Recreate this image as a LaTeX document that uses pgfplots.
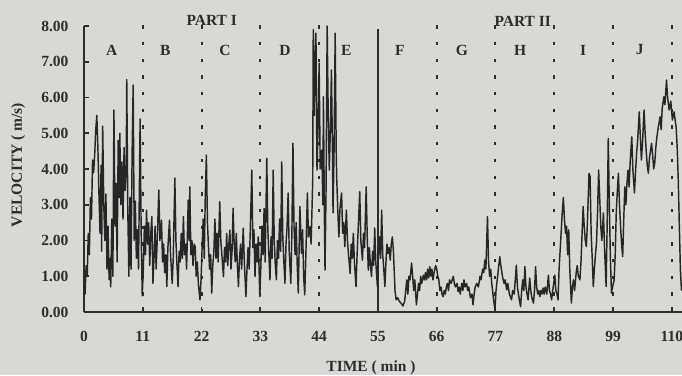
\documentclass[border=0pt]{standalone}
\usepackage{pgfplots}
\pgfplotsset{compat=1.18}
\usepackage{fontspec}
\setmainfont{Liberation Serif}
\definecolor{bg}{RGB}{216,216,213}
\definecolor{fg}{RGB}{45,45,45}
\definecolor{dl}{RGB}{38,38,38}
\newcommand{\lf}{\fontsize{15.5}{18}\selectfont\bfseries}
\begin{document}
\begin{tikzpicture}
\path[use as bounding box, fill=bg] (-84pt,-63pt) rectangle (598pt,312pt);
\begin{axis}[
  scale only axis, width=598pt, height=286pt,
  at={(0,0)}, anchor=south west,
  xmin=0, xmax=111.9, ymin=0, ymax=8,
  axis x line*=bottom, axis y line*=left,
  axis line style={fg, line width=2.2pt, -},
  clip mode=individual,
  xtick={0,11,22,33,44,55,66,77,88,99,110},
  ytick={0,1,2,3,4,5,6,7,8},
  tick align=inside,
  major tick length=5pt,
  tick style={fg, line width=1.8pt},
  /pgf/number format/assume math mode=true,
  ticklabel style={font=\lf, text=fg},
  xticklabel style={yshift=-16pt},
  yticklabel style={/pgf/number format/fixed, /pgf/number format/fixed zerofill, /pgf/number format/precision=2, xshift=-12pt},
  xlabel={TIME ( min )},
  ylabel={VELOCITY ( m/s)},
  label style={font=\lf, text=fg},
  xlabel style={at={(axis description cs:0.48,-0.195)}, anchor=center},
  ylabel style={at={(axis description cs:-0.11,0.514)}, anchor=center},
]
% partition lines
\foreach \xx in {11,22,33,44,66,77,88,99,110} {
  \edef\tmp{\noexpand\addplot[fg, line width=2pt, dash pattern=on 3.3pt off 13.4pt, forget plot] coordinates {(\xx,8.02) (\xx,0)};}
  \tmp
}
\addplot[fg, line width=2.2pt, forget plot] coordinates {(55,0) (55,7.93)};
% velocity record
\addplot[dl, line width=1.45pt, line join=round] table {
x y
0 1.0
0.2 0.5
0.4 1.3
0.6 1.0
0.8 2.2
1.0 1.6
1.2 3.2
1.4 2.6
1.6 4.25
1.8 3.9
2.0 4.4
2.2 5.1
2.4 5.5
2.6 4.6
2.8 3.3
3.0 2.2
3.2 4.1
3.3 1.7
3.5 5.2
3.7 3.0
3.9 2.0
4.1 3.3
4.3 1.2
4.5 2.4
4.7 0.9
4.9 1.5
5.0 0.7
5.2 2.6
5.4 1.0
5.6 5.65
5.8 2.4
6.0 3.6
6.2 1.4
6.4 4.8
6.6 3.2
6.7 5.0
6.9 3.0
7.1 4.2
7.3 2.6
7.5 4.6
7.7 3.4
7.9 4.0
8.0 6.5
8.2 2.8
8.4 1.0
8.6 3.2
8.8 1.2
9.0 4.4
9.2 6.35
9.4 2.0
9.6 3.1
9.8 1.5
10.0 2.3
10.2 1.2
10.5 5.4
10.7 2.2
10.9 0.45
11.1 1.2
11.3 2.4
11.5 1.6
11.7 2.85
11.9 1.9
12.1 2.5
12.3 1.3
12.5 2.2
12.7 2.67
12.9 0.8
13.1 1.5
13.3 2.4
13.5 1.2
13.7 2.0
14.0 3.41
14.2 2.0
14.5 2.57
14.7 1.4
14.9 1.9
15.1 1.1
15.3 1.6
15.5 0.71
15.7 1.8
16.0 2.57
16.2 1.6
16.5 0.8
16.7 1.5
17.0 3.75
17.2 2.0
17.4 1.3
17.6 0.71
17.8 1.7
18.0 1.4
18.2 2.2
18.4 1.5
18.6 2.67
18.8 1.6
19.0 1.9
19.2 1.2
19.5 3.13
19.7 2.0
19.8 3.5
20.0 1.6
20.2 2.0
20.4 1.3
20.6 1.9
20.8 1.83
21.0 1.0
21.2 1.4
21.4 0.8
21.7 0.34
21.9 0.9
22.1 1.8
22.3 2.6
22.5 1.5
22.7 3.3
22.9 4.39
23.1 2.5
23.3 1.8
23.5 1.2
23.7 1.6
23.9 0.53
24.1 1.3
24.3 1.7
24.5 2.6
24.7 1.5
24.9 2.2
25.1 1.4
25.4 3.09
25.6 2.0
25.8 1.6
26.1 0.99
26.3 1.8
26.5 1.4
26.7 2.2
26.9 1.3
27.1 1.9
27.3 2.29
27.5 1.2
27.7 1.7
27.9 2.9
28.1 1.9
28.3 1.4
28.5 2.2
28.7 1.3
28.9 0.71
29.1 1.5
29.3 1.9
29.5 1.2
29.8 2.35
30.0 1.4
30.3 0.43
30.5 1.2
30.7 1.8
30.9 1.2
31.1 2.2
31.4 3.97
31.6 1.8
31.8 2.3
32.0 0.99
32.2 1.9
32.4 1.4
32.6 2.1
32.9 0.43
33.1 1.3
33.3 2.4
33.5 1.6
33.7 2.9
33.9 1.4
34.2 4.3
34.4 2.3
34.6 1.6
34.8 0.9
35.0 2.1
35.2 1.5
35.4 3.97
35.6 2.0
35.8 1.3
36.0 0.9
36.2 2.0
36.4 1.5
36.6 2.6
36.8 1.7
37.0 4.2
37.2 2.1
37.4 1.4
37.6 0.8
37.8 1.9
38.0 2.4
38.2 3.33
38.4 1.7
38.7 0.8
38.9 2.2
39.1 4.72
39.3 2.4
39.5 1.6
39.7 2.5
39.9 1.3
40.1 0.53
40.4 2.95
40.7 1.64
40.9 2.3
41.1 1.0
41.3 0.48
41.5 1.5
41.8 3.33
42.0 2.1
42.3 2.39
42.5 1.9
42.8 3.69
42.9 7.9
43.1 5.5
43.2 7.0
43.4 7.8
43.6 3.97
43.8 5.2
44.0 6.96
44.2 4.0
44.5 4.53
44.7 3.0
44.8 6.02
45.0 2.4
45.1 1.17
45.3 3.5
45.5 8.0
45.7 5.5
45.9 3.97
46.1 5.1
46.3 6.77
46.5 4.4
46.6 2.77
46.8 4.6
47.0 7.8
47.2 4.4
47.3 3.69
47.5 2.8
47.7 2.1
47.9 2.9
48.2 3.33
48.4 2.2
48.6 2.5
48.8 1.83
49.1 2.85
49.3 2.0
49.5 1.6
49.8 1.08
50.0 1.9
50.2 1.5
50.4 2.2
50.6 1.4
50.9 0.71
51.1 1.6
51.3 2.3
51.6 3.37
51.8 2.0
52.1 1.45
52.3 2.2
52.5 1.8
52.8 3.5
53.0 2.1
53.2 1.17
53.4 1.8
53.6 1.3
53.8 0.99
54.0 1.7
54.2 1.3
54.4 2.35
54.6 1.4
54.9 0.71
55.1 1.6
55.3 2.1
55.5 1.5
55.7 2.85
55.9 1.6
56.1 1.2
56.3 0.71
56.5 1.4
56.7 1.9
56.9 1.64
57.1 1.8
57.3 1.45
57.5 1.9
57.7 2.1
57.9 1.7
58.2 0.6
58.4 0.34
58.7 0.4
59.0 0.3
59.3 0.25
59.7 0.17
60.0 0.3
60.2 0.6
60.4 0.9
60.6 0.5
60.8 1.0
61.0 0.9
61.3 1.37
61.5 1.0
61.7 0.6
61.9 0.9
62.2 0.2
62.4 0.5
62.6 0.8
62.8 0.6
63.0 1.0
63.2 0.8
63.5 1.03
63.7 0.9
63.9 1.1
64.1 0.9
64.3 1.2
64.5 0.95
64.7 1.27
64.9 1.0
65.1 1.2
65.3 0.9
65.5 1.1
65.8 1.3
66.0 1.2
66.2 1.0
66.4 0.9
66.6 0.6
66.8 0.7
67.0 0.5
67.2 0.43
67.4 0.6
67.6 0.5
67.8 0.7
68.0 0.8
68.2 0.6
68.4 0.9
68.7 0.8
69.1 1.0
69.3 0.8
69.5 0.7
69.8 0.8
70.0 0.57
70.2 0.7
70.4 0.5
70.7 0.8
70.9 0.6
71.1 0.9
71.3 0.7
71.6 0.8
71.8 0.6
72.0 0.7
72.3 0.4
72.6 0.5
72.8 0.2
73.0 0.5
73.2 0.7
73.5 0.8
73.8 0.7
74.1 1.0
74.3 0.9
74.6 1.2
74.8 1.1
75.0 1.45
75.2 1.2
75.5 2.67
75.7 1.4
75.9 1.0
76.1 1.2
76.3 0.8
76.6 0.4
76.9 0.05
77.1 0.6
77.4 1.0
77.8 1.55
78.0 1.3
78.3 1.0
78.6 0.8
78.8 0.9
79.1 0.62
79.3 0.8
79.6 0.5
80.0 0.34
80.2 0.6
80.5 0.5
80.7 0.9
80.9 1.31
81.1 0.7
81.3 0.5
81.5 0.3
81.7 0.15
81.9 0.6
82.1 0.9
82.3 0.6
82.5 1.27
82.7 0.7
82.9 0.5
83.1 0.34
83.4 0.95
83.6 0.6
83.8 0.4
84.1 0.25
84.3 0.6
84.5 1.27
84.7 0.7
84.9 0.5
85.1 0.6
85.3 0.43
85.5 0.6
85.7 0.5
85.9 0.67
86.1 0.5
86.3 0.7
86.6 0.5
86.9 1.03
87.1 0.6
87.3 0.5
87.5 0.34
87.7 0.6
87.9 0.8
88.1 1.03
88.3 0.6
88.5 0.5
88.7 0.34
88.9 1.2
89.2 2.0
89.5 2.8
89.7 3.2
89.9 2.6
90.1 2.2
90.3 2.4
90.5 1.6
90.7 2.3
90.9 1.2
91.2 0.25
91.4 0.7
91.6 0.9
91.8 0.6
92.1 1.1
92.3 1.3
92.5 1.0
92.8 0.9
93.0 1.4
93.2 2.2
93.4 2.95
93.6 2.4
93.8 2.0
94.0 1.83
94.2 2.5
94.5 3.88
94.7 3.79
94.9 2.2
95.1 1.5
95.3 0.71
95.5 1.2
95.7 1.6
95.9 1.93
96.1 2.8
96.3 3.97
96.5 3.2
96.7 2.4
96.9 2.0
97.2 2.77
97.4 1.8
97.7 0.71
97.9 2.5
98.1 4.86
98.3 3.0
98.5 1.5
98.7 0.53
98.9 0.7
99.2 0.89
99.4 1.6
99.6 2.8
99.8 3.4
100.0 3.88
100.2 3.0
100.4 2.4
100.6 1.9
100.8 1.55
101.0 2.6
101.2 3.5
101.4 3.0
101.6 3.6
101.8 3.97
102.0 3.5
102.2 4.2
102.5 4.9
102.7 4.0
103.0 3.33
103.2 3.9
103.4 4.44
103.6 4.8
103.9 5.6
104.1 4.9
104.3 4.25
104.5 4.7
104.8 5.65
105.0 5.0
105.2 4.5
105.4 4.1
105.6 3.88
105.8 4.3
106.0 4.5
106.2 4.72
106.4 4.4
106.6 4.0
106.8 4.17
107.0 4.6
107.2 4.9
107.5 5.2
107.8 5.46
108.0 5.1
108.2 5.7
108.5 6.02
108.7 5.8
109.0 6.49
109.2 6.0
109.5 5.65
109.8 5.9
110.1 5.37
110.4 5.6
110.8 5.18
111.0 4.6
111.2 3.7
111.4 2.4
111.6 1.17
111.8 0.6
};
% section labels
\node[font=\lf, text=fg] at (axis cs:5.2,7.33) {A};
\node[font=\lf, text=fg] at (axis cs:15.2,7.33) {B};
\node[font=\lf, text=fg] at (axis cs:26.4,7.33) {C};
\node[font=\lf, text=fg] at (axis cs:37.6,7.33) {D};
\node[font=\lf, text=fg] at (axis cs:49.1,7.33) {E};
\node[font=\lf, text=fg] at (axis cs:59.1,7.33) {F};
\node[font=\lf, text=fg] at (axis cs:70.7,7.33) {G};
\node[font=\lf, text=fg] at (axis cs:81.6,7.33) {H};
\node[font=\lf, text=fg] at (axis cs:93.4,7.33) {I};
\node[font=\lf, text=fg] at (axis cs:104.0,7.33) {J};
\node[font=\lf, text=fg] at (axis cs:23.9,8.16) {PART I};
\node[font=\lf, text=fg] at (axis cs:82.1,8.14) {PART II};
\end{axis}
\end{tikzpicture}
\end{document}
